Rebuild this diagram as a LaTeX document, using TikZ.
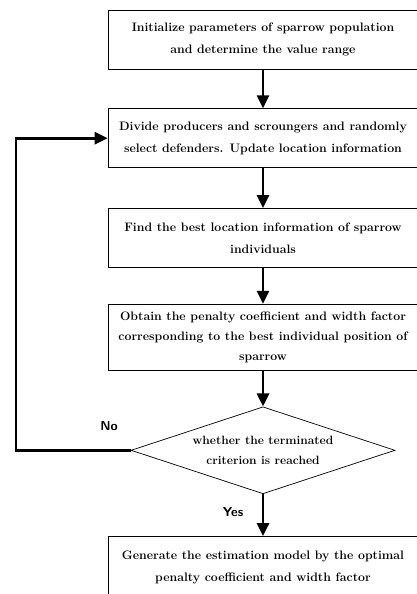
\documentclass[tikz,border=0pt]{standalone}
\usepackage{tikz}
\usetikzlibrary{positioning, shapes.geometric, arrows.meta}

\tikzset{
    stepbox/.style = {draw, line width = 0.7pt, minimum width = 310pt, minimum height = 59pt,
                      align = center, font = \bfseries\fontsize{12.3}{22}\selectfont, inner sep = 2pt},
    decision/.style = {diamond, draw, line width = 0.7pt, aspect = 3, minimum width = 264pt, minimum height = 87pt,
                       inner sep = 0pt, align = center, font = \bfseries\fontsize{12}{20}\selectfont},
    flow/.style = {line width = 2.8pt, -{Triangle[width = 12pt, length = 13pt]}},
    answer/.style = {font = \sffamily\bfseries\fontsize{13}{15}\selectfont}
}

\begin{document}
\begin{tikzpicture}[x = 1pt, y = 1pt, node distance = 38pt]
        \useasboundingbox (0,0) rectangle (416,-594);

        \node (init)   [stepbox] at (263,-39.5) {Initialize parameters of sparrow population\\and determine the value range};
        \node (divide) [stepbox, below = 39pt of init]   {Divide producers and scroungers and randomly\\select defenders. Update location information};
        \node (best)   [stepbox, below = 40pt of divide] {Find the best location information of sparrow\\individuals};
        \node (obtain) [stepbox, minimum height = 66pt, font = \bfseries\fontsize{12.3}{20}\selectfont, below = 36pt of best] {Obtain the penalty coefficient and width factor\\corresponding to the best individual position of\\sparrow};
        \node (check)  [decision, below = 36pt of obtain] {whether the terminated\\criterion is reached};
        \node (model)  [stepbox, minimum height = 62pt, below = 42pt of check] {Generate the estimation model by the optimal\\penalty coefficient and width factor};

        \coordinate (loop) at (16,-300);

        \draw[flow] (init)   -- (divide);
        \draw[flow] (divide) -- (best);
        \draw[flow] (best)   -- (obtain);
        \draw[flow] (obtain) -- (check);
        \draw[flow] (check)  -- (model);
        \draw[flow] (check.west) -| (loop) |- (divide.west);

        \node (no)  [answer] at (109,-426) {No};
        \node (yes) [answer] at (233,-512) {Yes};

    \end{tikzpicture}
\end{document}
